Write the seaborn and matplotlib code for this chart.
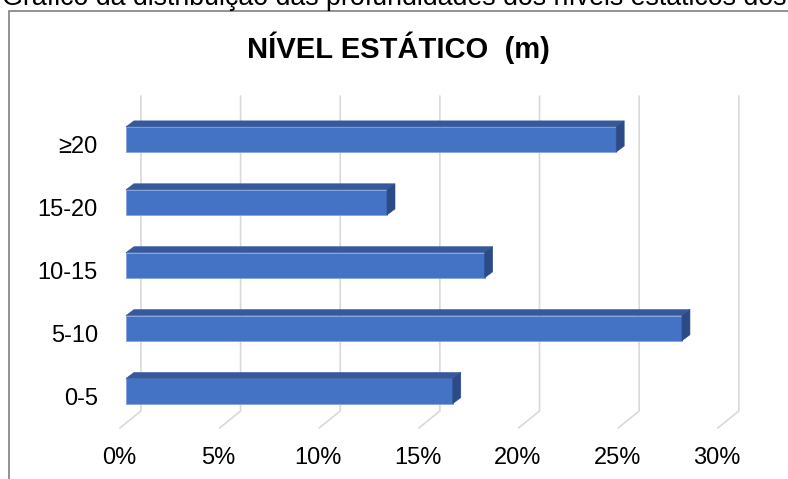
import matplotlib
matplotlib.use('Agg')
import matplotlib.pyplot as plt
import matplotlib.transforms as mtransforms
from matplotlib.patches import Polygon, Rectangle
from matplotlib.lines import Line2D
import seaborn as sns
import pandas as pd

# ---- data ----
categories = ['≥20', '15-20', '10-15', '5-10', '0-5']
values = [24.6, 13.1, 18.0, 27.9, 16.4]
xticks = [0, 5, 10, 15, 20, 25, 30]
xtick_labels = ['0%', '5%', '10%', '15%', '20%', '25%', '30%']
title = 'NÍVEL ESTÁTICO  (m)'
caption = 'Gráfico da distribuição das profundidades dos níveis estáticos dos'

sns.set_theme(style='white')
plt.rcParams['font.family'] = ['Liberation Sans', 'DejaVu Sans']

W, H = 788, 479
fig = plt.figure(figsize=(W / 100, H / 100), dpi=100)
fig.patch.set_facecolor('white')

ax_left, ax_top, ax_w, ax_h = 106, 108, 677.6, 314.5
ax = fig.add_axes([ax_left / W, (H - ax_top - ax_h) / H, ax_w / W, ax_h / H])

df = pd.DataFrame({'cat': categories, 'val': values})
sns.barplot(data=df, x='val', y='cat', order=categories, orient='h',
            color='#4472C4', width=0.4, saturation=1, ax=ax,
            edgecolor='#86A3D9', linewidth=0.6, zorder=3)
ax.set_xlim(-1, 33)
ax.set_ylim(4.5, -0.5)
ax.set_facecolor('white')
for s in ax.spines.values():
    s.set_visible(False)
ax.set_xlabel('')
ax.set_ylabel('')

# pixel scale of data units
(x0p, y0p), (x1p, y1p) = ax.transData.transform([[0, 0], [1, 1]])
ppx = abs(x1p - x0p)
ppy = abs(y1p - y0p)
ylo = ax.get_ylim()[1]


def py2data(py):
    return ylo + (py - ax_top) / ppy


# ---- 3D faces of bars ----
dx = 8 / ppx
dy = 6 / ppy
for p in list(ax.patches):
    bx, bw = p.get_x(), p.get_width()
    by, bh = p.get_y(), p.get_height()
    top = Polygon([(bx, by), (bx + dx, by - dy), (bx + bw + dx, by - dy), (bx + bw, by)],
                  closed=True, facecolor='#36599C', edgecolor='#36599C', lw=0.4,
                  zorder=3, clip_on=False)
    side = Polygon([(bx + bw, by), (bx + bw + dx, by - dy), (bx + bw + dx, by + bh - dy), (bx + bw, by + bh)],
                   closed=True, facecolor='#2C4B86', edgecolor='#2C4B86', lw=0.4,
                   zorder=3, clip_on=False)
    ax.add_patch(top)
    ax.add_patch(side)

# ---- gridlines (back wall + floor diagonal) ----
gback = 15 / ppx
gfront = -6 / ppx
for t in xticks:
    ax.add_line(Line2D([t + gback, t + gback, t + gfront],
                       [py2data(96), py2data(411), py2data(428)],
                       color='#D9D9D9', lw=1.2, zorder=1, clip_on=False))

# ---- ticks ----
ax.set_xticks(xticks)
ax.set_xticklabels(xtick_labels)
ax.tick_params(axis='x', length=0, pad=17.6, labelsize=17, colors='#000000')
ax.tick_params(axis='y', length=0, pad=5.8, labelsize=17, colors='#000000')
offx = mtransforms.ScaledTranslation(-7 / 100, 0, fig.dpi_scale_trans)
for lab in ax.get_xticklabels():
    lab.set_transform(lab.get_transform() + offx)
offy = mtransforms.ScaledTranslation(0, -5 / 100, fig.dpi_scale_trans)
for lab in ax.get_yticklabels():
    lab.set_transform(lab.get_transform() + offy)

# ---- title & cut caption ----
fig.text(398 / W, 1 - 58 / H, title, ha='center', va='baseline',
         fontsize=21, fontweight='bold', color='#000000')
fig.text(2 / W, 1 - 5 / H, caption, ha='left', va='baseline',
         fontsize=19.3, color='#000000')

# ---- chart border ----
fig.add_artist(Rectangle((9 / W, -0.2), 2, (1 - 11 / H) + 0.2,
                         transform=fig.transFigure, fill=False,
                         edgecolor='#7F7F7F', lw=1.2))

fig.savefig('out.png', dpi=100)
